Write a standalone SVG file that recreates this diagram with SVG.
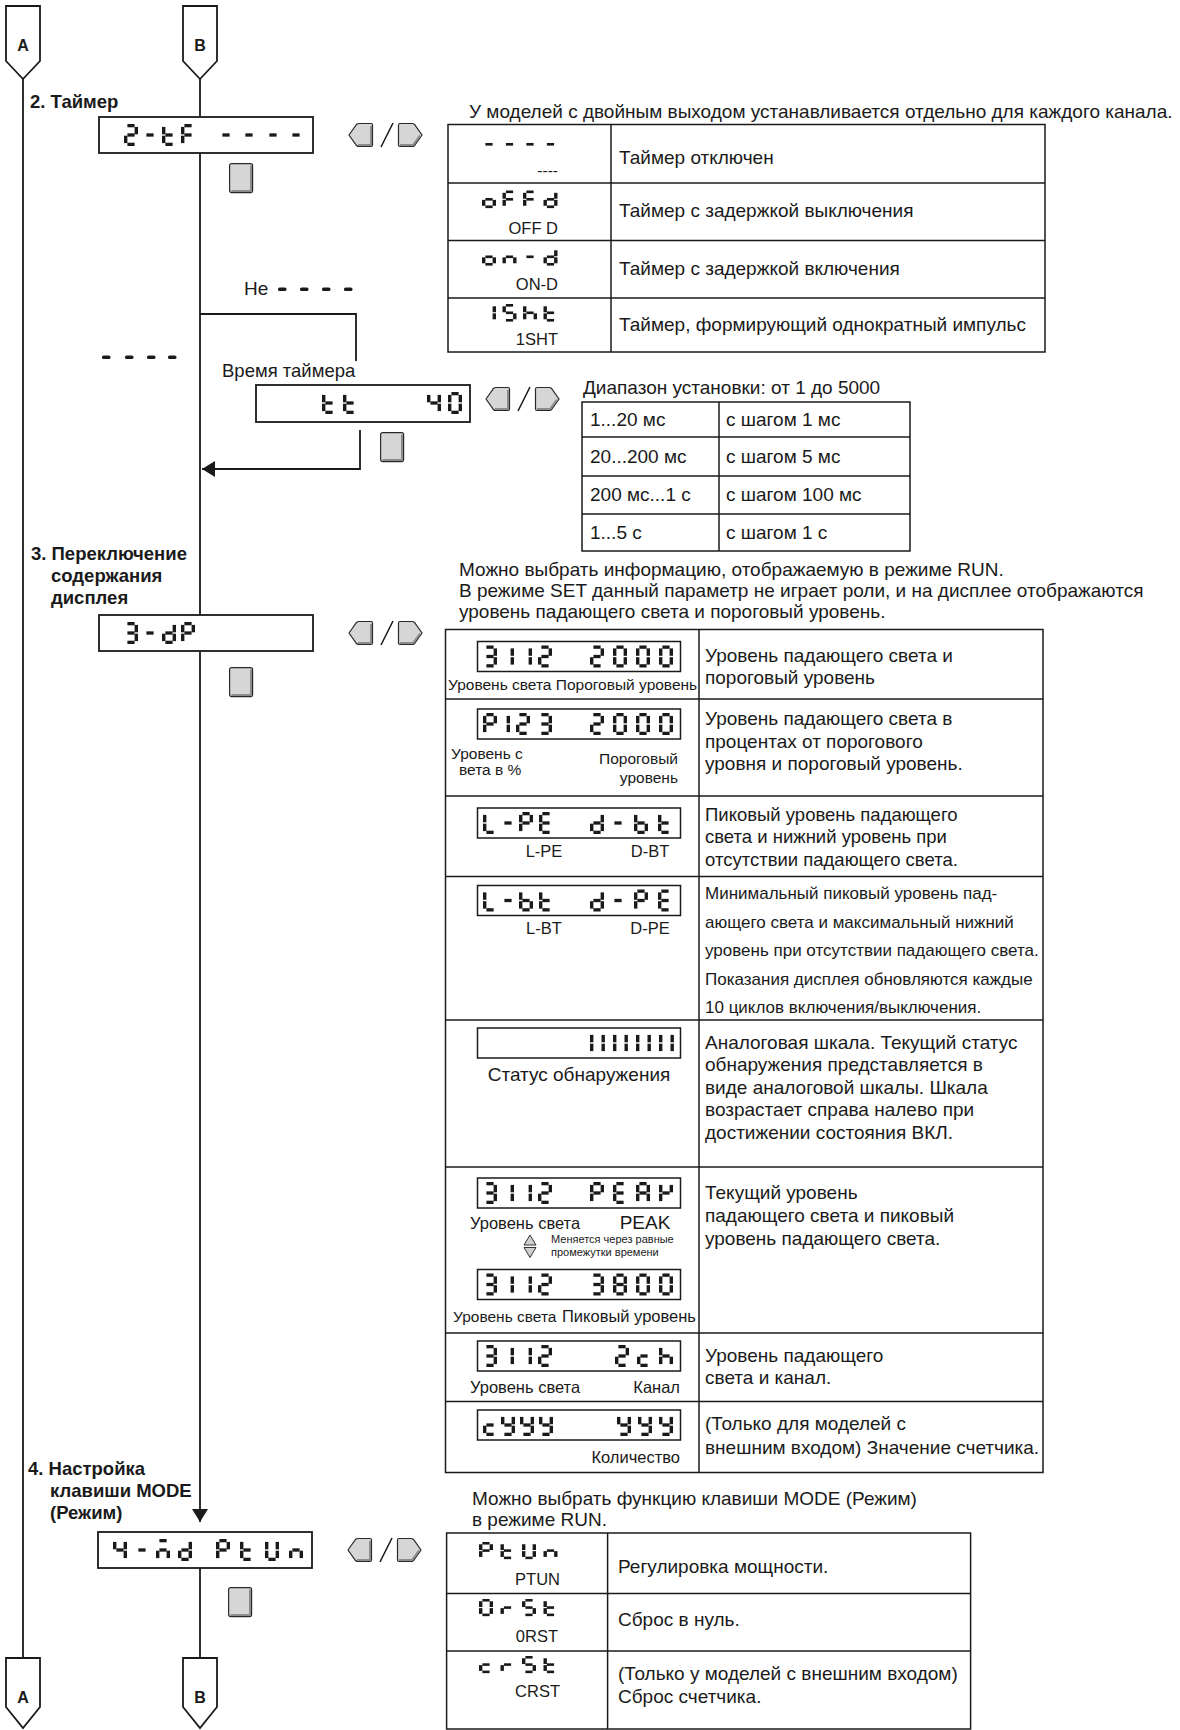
<svg xmlns="http://www.w3.org/2000/svg" width="1180" height="1730" viewBox="0 0 1180 1730">
<style>
text{font-family:"Liberation Sans",Arial,sans-serif;fill:#1a1a1a}
.t{font-size:19px}
.t3{font-size:18.5px}
.h{font-size:18.5px;font-weight:bold}
.s{font-size:16.5px}
.c{font-size:15.5px}
.n{font-size:17px}
.x{font-size:11px}
.e{text-anchor:end}
.m{text-anchor:middle}
.cl{font-size:16px;font-weight:bold;text-anchor:middle}
.ln{fill:none;stroke:#1a1a1a;stroke-width:1.8}
.tb{fill:none;stroke:#1a1a1a;stroke-width:1.5}
.box{fill:#fff;stroke:#1a1a1a;stroke-width:1.8}
.dbox{fill:#fff;stroke:#1a1a1a;stroke-width:1.5}
.conn{fill:#fff;stroke:#1a1a1a;stroke-width:1.8}
.key{fill:#d6d6d6;stroke:#2a2a2a;stroke-width:1.2}
.ksh{fill:none;stroke:#8c8c8c;stroke-width:2}
.sl{stroke:#1a1a1a;stroke-width:1.6}
.seg{fill:#1a1a1a}
.tri{fill:#cfcfcf;stroke:#333;stroke-width:1}
</style>
<defs>
<marker id="ah" markerUnits="userSpaceOnUse" markerWidth="14" markerHeight="16" refX="13" refY="8" orient="auto">
<path d="M0,0 L13,8 L0,16 Z" fill="#1a1a1a"/>
</marker>
<rect id="sa" x="3.4" y="0" width="7.2" height="3.3"/>
<rect id="sb" x="10.6" y="2.9" width="3.4" height="7.4"/>
<rect id="sc" x="10.6" y="11.7" width="3.4" height="7.4"/>
<rect id="sd" x="3.4" y="18.7" width="7.2" height="3.3"/>
<rect id="se" x="0" y="11.7" width="3.4" height="7.4"/>
<rect id="sf" x="0" y="2.9" width="3.4" height="7.4"/>
<rect id="sg" x="3.4" y="9.35" width="7.2" height="3.3"/>
<g id="g0" class="seg"><use href="#sa"/><use href="#sb"/><use href="#sc"/><use href="#sd"/><use href="#se"/><use href="#sf"/></g>
<g id="g1" class="seg"><use href="#sb"/><use href="#sc"/></g>
<g id="g2" class="seg"><use href="#sa"/><use href="#sb"/><use href="#sg"/><use href="#se"/><use href="#sd"/></g>
<g id="g3" class="seg"><use href="#sa"/><use href="#sb"/><use href="#sg"/><use href="#sc"/><use href="#sd"/></g>
<g id="g4" class="seg"><use href="#sf"/><use href="#sg"/><use href="#sb"/><use href="#sc"/></g>
<g id="g8" class="seg"><use href="#sa"/><use href="#sb"/><use href="#sc"/><use href="#sd"/><use href="#se"/><use href="#sf"/><use href="#sg"/></g>
<g id="gA" class="seg"><use href="#sa"/><use href="#sb"/><use href="#sc"/><use href="#se"/><use href="#sf"/><use href="#sg"/></g>
<g id="gE" class="seg"><use href="#sa"/><use href="#sf"/><use href="#sg"/><use href="#se"/><use href="#sd"/></g>
<g id="gF" class="seg"><use href="#sa"/><use href="#sf"/><use href="#sg"/><use href="#se"/></g>
<g id="gK" class="seg"><use href="#sf"/><use href="#sb"/><use href="#sg"/><use href="#se"/></g>
<g id="gL" class="seg"><use href="#sf"/><use href="#se"/><use href="#sd"/></g>
<g id="gM" class="seg"><use href="#sa"/><use href="#sg"/><use href="#se"/><use href="#sc"/></g>
<g id="gP" class="seg"><use href="#sa"/><use href="#sb"/><use href="#sf"/><use href="#sg"/><use href="#se"/></g>
<g id="gS" class="seg"><use href="#sa"/><use href="#sf"/><use href="#sg"/><use href="#sc"/><use href="#sd"/></g>
<g id="gU" class="seg"><use href="#sf"/><use href="#se"/><use href="#sd"/><use href="#sc"/><use href="#sb"/></g>
<g id="gb" class="seg"><use href="#sf"/><use href="#se"/><use href="#sg"/><use href="#sc"/><use href="#sd"/></g>
<g id="gc" class="seg"><use href="#sg"/><use href="#se"/><use href="#sd"/></g>
<g id="gd" class="seg"><use href="#sb"/><use href="#sc"/><use href="#sg"/><use href="#se"/><use href="#sd"/></g>
<g id="gh" class="seg"><use href="#sf"/><use href="#se"/><use href="#sg"/><use href="#sc"/></g>
<g id="gn" class="seg"><use href="#sg"/><use href="#se"/><use href="#sc"/></g>
<g id="go" class="seg"><use href="#sg"/><use href="#sc"/><use href="#sd"/><use href="#se"/></g>
<g id="gr" class="seg"><use href="#se"/><use href="#sg"/></g>
<g id="gt" class="seg"><use href="#sf"/><use href="#se"/><use href="#sg"/><use href="#sd"/></g>
<g id="gy" class="seg"><use href="#sf"/><use href="#sb"/><use href="#sg"/><use href="#sc"/><use href="#sd"/></g>
<g id="gm" class="seg"><use href="#sg"/></g>
<g id="bar" class="seg"><use href="#sf"/><use href="#se"/></g>
<g id="keys">
<path class="key" d="M1,12 L8.5,1.5 Q9.5,0.5 11,0.5 L23,0.5 Q24.5,0.5 24.5,2 L24.5,22 Q24.5,23.5 23,23.5 L11,23.5 Q9.5,23.5 8.5,22.5 Z"/>
<path class="ksh" d="M10,22 L23,22 L23,3"/>
<line class="sl" x1="33" y1="24" x2="45" y2="0"/>
<path class="key" d="M50.5,2 Q50.5,0.5 52,0.5 L64,0.5 Q65.5,0.5 66.5,1.5 L74,12 L66.5,22.5 Q65.5,23.5 64,23.5 L52,23.5 Q50.5,23.5 50.5,22 Z"/>
<path class="ksh" d="M52,22 L65,22 L72,12.5"/>
</g>
<g id="sq">
<rect class="key" x="0.6" y="0.6" width="23" height="29" rx="2"/>
<path class="ksh" d="M2.5,28 H22 V2.5"/>
</g>
<rect id="dash" width="8.5" height="3.6" rx="1.6" fill="#1a1a1a"/>
</defs>

<rect width="1180" height="1730" fill="#fff"/>

<g id="connectors">
<line class="ln" x1="23" y1="79" x2="23" y2="1658"/>
<line class="ln" x1="200" y1="79" x2="200" y2="117"/>
<line class="ln" x1="200" y1="153" x2="200" y2="615"/>
<polyline class="ln" points="200,314 356,314 356,361"/>
<polyline class="ln" points="360,430 360,469 202,469" marker-end="url(#ah)"/>
<line class="ln" x1="200" y1="651" x2="200" y2="1522" marker-end="url(#ah)"/>
<line class="ln" x1="200" y1="1568" x2="200" y2="1658"/>
</g>

<g id="connA-top"><path class="conn" d="M6,6 H40 V61 L23,79 L6,61 Z"/><text class="cl" x="23" y="51">A</text></g>
<g id="connB-top"><path class="conn" d="M183,6 H217 V61 L200,79 L183,61 Z"/><text class="cl" x="200" y="51">B</text></g>
<g id="connA-bottom"><path class="conn" d="M6,1658 H40 V1707 L23,1728 L6,1707 Z"/><text class="cl" x="23" y="1703">A</text></g>
<g id="connB-bottom"><path class="conn" d="M183,1658 H217 V1707 L200,1728 L183,1707 Z"/><text class="cl" x="200" y="1703">B</text></g>

<g id="sec2-title"><text class="h" x="30" y="108">2. Таймер</text></g>

<g id="disp-2tF">
<rect class="box" x="99" y="117" width="214" height="36"/>
<use href="#g2" x="124" y="124"/><use href="#gm" x="143" y="124"/><use href="#gt" x="162" y="124"/><use href="#gF" x="181" y="124"/>
<use href="#gm" x="219" y="124"/><use href="#gm" x="242" y="124"/><use href="#gm" x="266" y="124"/><use href="#gm" x="289" y="124"/>
</g>
<g id="keys-2"><use href="#keys" x="348" y="123"/></g>
<g id="sq-2"><use href="#sq" x="229" y="163"/></g>

<g id="note-2"><text class="t" x="469" y="118">У моделей с двойным выходом устанавливается отдельно для каждого канала.</text></g>

<g id="table-timer">
<rect class="tb" x="448" y="124.5" width="597" height="227.5"/>
<line class="tb" x1="448" y1="183" x2="1045" y2="183"/>
<line class="tb" x1="448" y1="240.5" x2="1045" y2="240.5"/>
<line class="tb" x1="448" y1="298" x2="1045" y2="298"/>
<line class="tb" x1="611" y1="124.5" x2="611" y2="352"/>
<g transform="translate(482,135.5) scale(1,.8)"><use href="#gm"/><use href="#gm" x="20.5"/><use href="#gm" x="41"/><use href="#gm" x="61.5"/></g>
<text class="c e" x="558" y="176">----</text>
<g transform="translate(482,190.5) scale(1,.8)"><use href="#go"/><use href="#gF" x="20.5"/><use href="#gF" x="41"/><use href="#gd" x="61.5"/></g>
<text class="s e" x="558" y="234">OFF D</text>
<g transform="translate(482,248) scale(1,.8)"><use href="#go"/><use href="#gn" x="20.5"/><use href="#gm" x="41"/><use href="#gd" x="61.5"/></g>
<text class="s e" x="558" y="290">ON-D</text>
<g transform="translate(482,304) scale(1,.8)"><use href="#g1"/><use href="#gS" x="20.5"/><use href="#gh" x="41"/><use href="#gt" x="61.5"/></g>
<text class="s e" x="558" y="345">1SHT</text>
<text class="t" x="619" y="164">Таймер отключен</text>
<text class="t" x="619" y="217">Таймер с задержкой выключения</text>
<text class="t" x="619" y="275">Таймер с задержкой включения</text>
<text class="t" x="619" y="331">Таймер, формирующий однократный импульс</text>
</g>

<g id="branch-no">
<text class="t" x="244" y="295">Не</text>
<use href="#dash" x="278" y="287.5"/><use href="#dash" x="300" y="287.5"/><use href="#dash" x="322" y="287.5"/><use href="#dash" x="344" y="287.5"/>
</g>
<g id="branch-dashes">
<use href="#dash" x="102" y="355.5"/><use href="#dash" x="125" y="355.5"/><use href="#dash" x="147" y="355.5"/><use href="#dash" x="168" y="355.5"/>
</g>

<g id="disp-tt">
<text class="t3" x="222" y="377">Время таймера</text>
<rect class="box" x="256" y="385" width="214" height="37"/>
<use href="#gt" x="322" y="392"/><use href="#gt" x="343" y="392"/><use href="#g4" x="427" y="392"/><use href="#g0" x="448" y="392"/>
</g>
<g id="keys-tt"><use href="#keys" x="485" y="387"/></g>
<g id="sq-tt"><use href="#sq" x="380" y="432"/></g>

<g id="table-range">
<text class="t" x="583" y="394">Диапазон установки: от 1 до 5000</text>
<rect class="tb" x="582" y="402" width="328" height="149"/>
<line class="tb" x1="582" y1="437" x2="910" y2="437"/>
<line class="tb" x1="582" y1="476" x2="910" y2="476"/>
<line class="tb" x1="582" y1="514" x2="910" y2="514"/>
<line class="tb" x1="719" y1="402" x2="719" y2="551"/>
<text class="t" x="590" y="426">1...20 мс</text><text class="t" x="726" y="426">с шагом 1 мс</text>
<text class="t" x="590" y="463">20...200 мс</text><text class="t" x="726" y="463">с шагом 5 мс</text>
<text class="t" x="590" y="501">200 мс...1 с</text><text class="t" x="726" y="501">с шагом 100 мс</text>
<text class="t" x="590" y="539">1...5 с</text><text class="t" x="726" y="539">с шагом 1 с</text>
</g>

<g id="sec3-title">
<text class="h" x="31" y="560">3. Переключение</text>
<text class="h" x="51" y="582">содержания</text>
<text class="h" x="51" y="604">дисплея</text>
</g>
<g id="disp-3dP">
<rect class="box" x="99" y="615" width="214" height="36"/>
<use href="#g3" x="124" y="622"/><use href="#gm" x="143" y="622"/><use href="#gd" x="162" y="622"/><use href="#gP" x="181" y="622"/>
</g>
<g id="keys-3"><use href="#keys" x="348" y="621"/></g>
<g id="sq-3"><use href="#sq" x="229" y="667"/></g>

<g id="note-3">
<text class="t" x="459" y="576">Можно выбрать информацию, отображаемую в режиме RUN.</text>
<text class="t" x="459" y="597">В режиме SET данный параметр не играет роли, и на дисплее отображаются</text>
<text class="t" x="459" y="618">уровень падающего света и пороговый уровень.</text>
</g>

<g id="table-display">
<rect class="tb" x="445.5" y="629.5" width="597.5" height="843"/>
<line class="tb" x1="445.5" y1="699" x2="1043" y2="699"/>
<line class="tb" x1="445.5" y1="796" x2="1043" y2="796"/>
<line class="tb" x1="445.5" y1="876.5" x2="1043" y2="876.5"/>
<line class="tb" x1="445.5" y1="1020" x2="1043" y2="1020"/>
<line class="tb" x1="445.5" y1="1167" x2="1043" y2="1167"/>
<line class="tb" x1="445.5" y1="1333" x2="1043" y2="1333"/>
<line class="tb" x1="445.5" y1="1401.5" x2="1043" y2="1401.5"/>
<line class="tb" x1="699" y1="629.5" x2="699" y2="1472.5"/>

<rect class="dbox" x="477.5" y="641.5" width="203" height="30"/>
<use href="#g3" x="483" y="645.5"/><use href="#g1" x="500" y="645.5"/><use href="#g1" x="518" y="645.5"/><use href="#g2" x="538" y="645.5"/>
<use href="#g2" x="590" y="645.5"/><use href="#g0" x="613" y="645.5"/><use href="#g0" x="636" y="645.5"/><use href="#g0" x="659" y="645.5"/>
<text class="c" x="448" y="690">Уровень света Пороговый уровень</text>
<text class="t" x="705" y="662">Уровень падающего света и</text>
<text class="t" x="705" y="684">пороговый уровень</text>

<rect class="dbox" x="477.5" y="709" width="203" height="30"/>
<use href="#gP" x="483" y="713"/><use href="#g1" x="496" y="713"/><use href="#g2" x="516" y="713"/><use href="#g3" x="538" y="713"/>
<use href="#g2" x="590" y="713"/><use href="#g0" x="613" y="713"/><use href="#g0" x="636" y="713"/><use href="#g0" x="659" y="713"/>
<text class="c" x="451" y="759">Уровень с</text>
<text class="c" x="459" y="775">вета в %</text>
<text class="c e" x="678" y="764">Пороговый</text>
<text class="c e" x="678" y="783">уровень</text>
<text class="t" x="705" y="725">Уровень падающего света в</text>
<text class="t" x="705" y="748">процентах от порогового</text>
<text class="t" x="705" y="770">уровня и пороговый уровень.</text>

<rect class="dbox" x="477.5" y="808" width="203" height="30"/>
<use href="#gL" x="483" y="812"/><use href="#gm" x="501" y="812"/><use href="#gP" x="519" y="812"/><use href="#gE" x="539" y="812"/>
<use href="#gd" x="590" y="812"/><use href="#gm" x="611" y="812"/><use href="#gb" x="634" y="812"/><use href="#gt" x="658" y="812"/>
<text class="s m" x="544" y="857">L-PE</text>
<text class="s m" x="650" y="857">D-BT</text>
<text class="t3" x="705" y="821">Пиковый уровень падающего</text>
<text class="t3" x="705" y="843">света и нижний уровень при</text>
<text class="t3" x="705" y="866">отсутствии падающего света.</text>

<rect class="dbox" x="477.5" y="885.5" width="203" height="30"/>
<use href="#gL" x="483" y="889.5"/><use href="#gm" x="501" y="889.5"/><use href="#gb" x="519" y="889.5"/><use href="#gt" x="539" y="889.5"/>
<use href="#gd" x="590" y="889.5"/><use href="#gm" x="611" y="889.5"/><use href="#gP" x="634" y="889.5"/><use href="#gE" x="658" y="889.5"/>
<text class="s m" x="544" y="934">L-BT</text>
<text class="s m" x="650" y="934">D-PE</text>
<text class="n" x="705" y="899">Минимальный пиковый уровень пад-</text>
<text class="n" x="705" y="927.5">ающего света и максимальный нижний</text>
<text class="n" x="705" y="956">уровень при отсутствии падающего света.</text>
<text class="n" x="705" y="985">Показания дисплея обновляются каждые</text>
<text class="n" x="705" y="1012.5">10 циклов включения/выключения.</text>

<rect class="dbox" x="477.5" y="1028" width="203" height="30"/>
<use href="#bar" x="590" y="1032"/><use href="#bar" x="601.5" y="1032"/><use href="#bar" x="613" y="1032"/><use href="#bar" x="624.5" y="1032"/>
<use href="#bar" x="636" y="1032"/><use href="#bar" x="647.5" y="1032"/><use href="#bar" x="659" y="1032"/><use href="#bar" x="670.5" y="1032"/>
<text class="t m" x="579" y="1081">Статус обнаружения</text>
<text class="t" x="705" y="1049">Аналоговая шкала. Текущий статус</text>
<text class="t" x="705" y="1071">обнаружения представляется в</text>
<text class="t" x="705" y="1094">виде аналоговой шкалы. Шкала</text>
<text class="t" x="705" y="1116">возрастает справа налево при</text>
<text class="t" x="705" y="1139">достижении состояния ВКЛ.</text>

<rect class="dbox" x="477.5" y="1178" width="203" height="30"/>
<use href="#g3" x="483" y="1182"/><use href="#g1" x="500" y="1182"/><use href="#g1" x="518" y="1182"/><use href="#g2" x="538" y="1182"/>
<use href="#gP" x="590" y="1182"/><use href="#gE" x="613" y="1182"/><use href="#gA" x="636" y="1182"/><use href="#gK" x="659" y="1182"/>
<text class="s" x="470" y="1228.5">Уровень света</text>
<text class="t m" x="645" y="1228.5">PEAK</text>
<path class="tri" d="M524,1245 L536,1245 L530,1235 Z"/>
<path class="tri" d="M524,1247.5 L536,1247.5 L530,1257.5 Z"/>
<text class="x" x="551" y="1243">Меняется через равные</text>
<text class="x" x="551" y="1256">промежутки времени</text>
<rect class="dbox" x="477.5" y="1269.5" width="203" height="30"/>
<use href="#g3" x="483" y="1273.5"/><use href="#g1" x="500" y="1273.5"/><use href="#g1" x="518" y="1273.5"/><use href="#g2" x="538" y="1273.5"/>
<use href="#g3" x="590" y="1273.5"/><use href="#g8" x="613" y="1273.5"/><use href="#g0" x="636" y="1273.5"/><use href="#g0" x="659" y="1273.5"/>
<text class="c" x="453" y="1322">Уровень света</text>
<text class="s" x="562" y="1322">Пиковый уровень</text>
<text class="t" x="705" y="1199">Текущий уровень</text>
<text class="t" x="705" y="1222">падающего света и пиковый</text>
<text class="t" x="705" y="1245">уровень падающего света.</text>

<rect class="dbox" x="477.5" y="1341" width="203" height="30"/>
<use href="#g3" x="483" y="1345"/><use href="#g1" x="500" y="1345"/><use href="#g1" x="518" y="1345"/><use href="#g2" x="538" y="1345"/>
<use href="#g2" x="615" y="1345"/><use href="#gc" x="637" y="1345"/><use href="#gh" x="659" y="1345"/>
<text class="s" x="470" y="1393">Уровень света</text>
<text class="s e" x="680" y="1393">Канал</text>
<text class="t" x="705" y="1362">Уровень падающего</text>
<text class="t" x="705" y="1384">света и канал.</text>

<rect class="dbox" x="477.5" y="1410" width="203" height="30"/>
<use href="#gc" x="483" y="1414"/><use href="#gy" x="501" y="1414"/><use href="#gy" x="520" y="1414"/><use href="#gy" x="539" y="1414"/>
<use href="#gy" x="617" y="1414"/><use href="#gy" x="638" y="1414"/><use href="#gy" x="659" y="1414"/>
<text class="s e" x="680" y="1463">Количество</text>
<text class="t" x="705" y="1430">(Только для моделей с</text>
<text class="t" x="705" y="1453.5">внешним входом) Значение счетчика.</text>
</g>

<g id="sec4-title">
<text class="h" x="28" y="1475">4. Настройка</text>
<text class="h" x="50" y="1497">клавиши MODE</text>
<text class="h" x="50" y="1519">(Режим)</text>
</g>
<g id="disp-4md">
<rect class="box" x="98" y="1532" width="214" height="36"/>
<use href="#g4" x="113" y="1539"/><use href="#gm" x="135" y="1539"/><use href="#gM" x="156" y="1539"/><use href="#gd" x="178" y="1539"/>
<use href="#gP" x="216" y="1539"/><use href="#gt" x="240" y="1539"/><use href="#gU" x="265" y="1539"/><use href="#gn" x="289" y="1539"/>
</g>
<g id="keys-4"><use href="#keys" x="347" y="1538"/></g>
<g id="sq-4"><use href="#sq" x="228" y="1587"/></g>

<g id="note-4">
<text class="t" x="472" y="1505">Можно выбрать функцию клавиши MODE (Режим)</text>
<text class="t" x="472" y="1526">в режиме RUN.</text>
</g>

<g id="table-mode">
<rect class="tb" x="446.6" y="1533" width="524" height="196"/>
<line class="tb" x1="446.6" y1="1593.5" x2="970.6" y2="1593.5"/>
<line class="tb" x1="446.6" y1="1651" x2="970.6" y2="1651"/>
<line class="tb" x1="607.6" y1="1533" x2="607.6" y2="1729"/>
<g transform="translate(479,1542) scale(1,.78)"><use href="#gP"/><use href="#gt" x="21.5"/><use href="#gU" x="43"/><use href="#gn" x="64.5"/></g>
<text class="s e" x="560" y="1585">PTUN</text>
<g transform="translate(479,1599) scale(1,.78)"><use href="#g0"/><use href="#gr" x="21.5"/><use href="#gS" x="43"/><use href="#gt" x="64.5"/></g>
<text class="s e" x="558" y="1642">0RST</text>
<g transform="translate(479,1656) scale(1,.78)"><use href="#gc"/><use href="#gr" x="21.5"/><use href="#gS" x="43"/><use href="#gt" x="64.5"/></g>
<text class="s e" x="560" y="1697">CRST</text>
<text class="t" x="618" y="1573">Регулировка мощности.</text>
<text class="t" x="618" y="1626">Сброс в нуль.</text>
<text class="t" x="618" y="1680">(Только у моделей с внешним входом)</text>
<text class="t" x="618" y="1703">Сброс счетчика.</text>
</g>
</svg>
